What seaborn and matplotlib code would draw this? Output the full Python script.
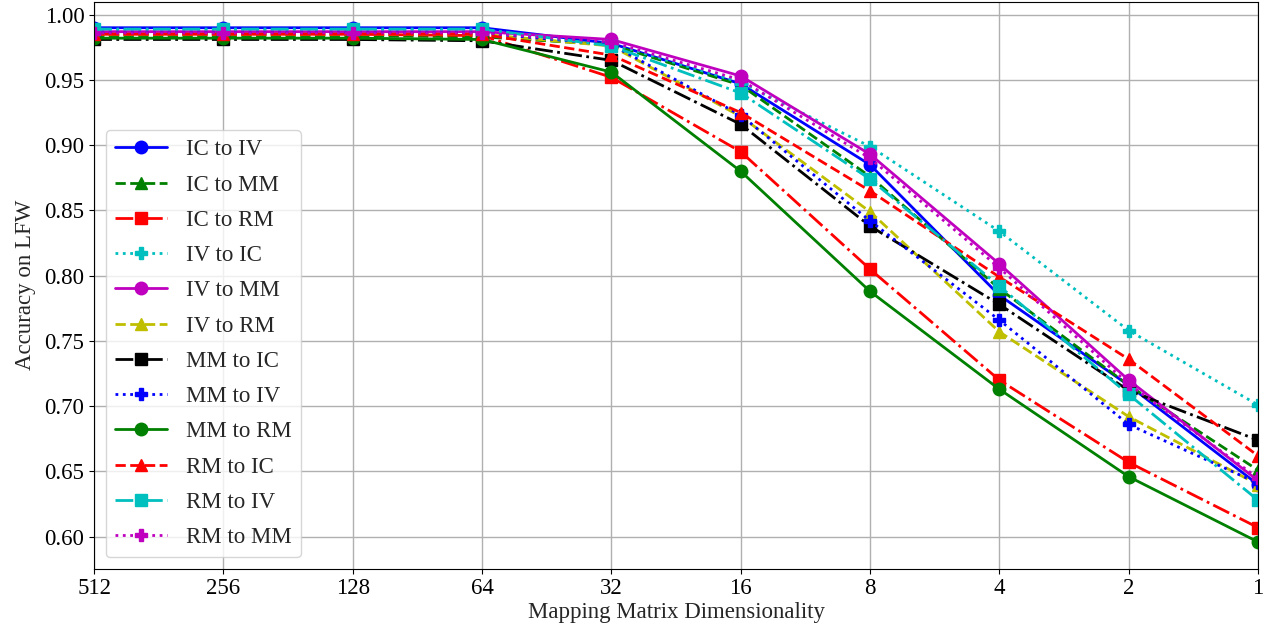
import matplotlib
matplotlib.use("Agg")
import matplotlib.pyplot as plt
import seaborn as sns
import numpy as np
import pandas as pd

dims = ["512", "256", "128", "64", "32", "16", "8", "4", "2", "1"]

ic_to_iv = [0.990, 0.990, 0.990, 0.990, 0.978, 0.947, 0.885, 0.785, 0.716, 0.640]
ic_to_mm = [0.984, 0.984, 0.984, 0.983, 0.977, 0.946, 0.876, 0.790, 0.716, 0.651]
ic_to_rm = [0.985, 0.985, 0.985, 0.984, 0.952, 0.895, 0.805, 0.720, 0.657, 0.607]
iv_to_ic = [0.988, 0.988, 0.988, 0.988, 0.978, 0.948, 0.899, 0.834, 0.758, 0.701]
iv_to_mm = [0.987, 0.987, 0.987, 0.987, 0.981, 0.953, 0.893, 0.809, 0.720, 0.643]
iv_to_rm = [0.985, 0.985, 0.985, 0.985, 0.976, 0.922, 0.849, 0.757, 0.692, 0.640]
mm_to_ic = [0.981, 0.981, 0.981, 0.980, 0.965, 0.916, 0.838, 0.778, 0.712, 0.674]
mm_to_iv = [0.986, 0.986, 0.986, 0.986, 0.977, 0.923, 0.842, 0.766, 0.686, 0.641]
mm_to_rm = [0.982, 0.982, 0.982, 0.981, 0.956, 0.880, 0.788, 0.713, 0.646, 0.596]
rm_to_ic = [0.985, 0.985, 0.985, 0.985, 0.969, 0.925, 0.865, 0.799, 0.736, 0.662]
rm_to_iv = [0.989, 0.989, 0.989, 0.989, 0.976, 0.940, 0.874, 0.792, 0.709, 0.628]
rm_to_mm = [0.986, 0.986, 0.986, 0.986, 0.979, 0.950, 0.890, 0.806, 0.717, 0.645]

labels = ["IC to IV", "IC to MM", "IC to RM", "IV to IC", "IV to MM", "IV to RM",
          "MM to IC", "MM to IV", "MM to RM", "RM to IC", "RM to IV", "RM to MM"]
series = [ic_to_iv, ic_to_mm, ic_to_rm, iv_to_ic, iv_to_mm, iv_to_rm,
          mm_to_ic, mm_to_iv, mm_to_rm, rm_to_ic, rm_to_iv, rm_to_mm]

colors = ["b", "g", "r", "c", "m", "y", "k"]
linestyles = ["-", "--", "-.", ":"]
markers = ["o", "^", "s", "P"]

FS = 16.5

sns.set_style("ticks")
plt.rcParams["font.family"] = ["Liberation Serif", "DejaVu Serif"]
plt.rcParams["font.size"] = FS

fig, ax = plt.subplots(figsize=(12.72, 6.34), dpi=100)
fig.subplots_adjust(left=0.074, right=0.989, top=0.997, bottom=0.103)

xpos = np.arange(len(dims))
for i, (lab, vals) in enumerate(zip(labels, series)):
    df = pd.DataFrame({"x": xpos, "y": vals})
    sns.lineplot(data=df, x="x", y="y", ax=ax, color=colors[i % 7],
                 linestyle=linestyles[i % 4], marker=markers[i % 4],
                 markersize=9, linewidth=2, markeredgewidth=1,
                 markeredgecolor=colors[i % 7], label=lab)

ax.set_xlim(0, len(dims) - 1)
ax.set_xticks(xpos)
ax.set_xticklabels(dims)
ax.set_yticks(np.arange(0.60, 1.001, 0.05))
ax.set_yticklabels([f"{v:.2f}" for v in np.arange(0.60, 1.001, 0.05)])
ax.set_ylim(0.5755, 1.0098)
ax.grid(True, color="#b0b0b0", linewidth=1)
for s in ax.spines.values():
    s.set_color("black")
ax.tick_params(labelsize=FS, colors="black")
ax.set_xlabel("Mapping Matrix Dimensionality", fontsize=FS, labelpad=2)
ax.set_ylabel("Accuracy on LFW", fontsize=FS, labelpad=6)
ax.legend(loc="lower left", fontsize=FS, handlelength=2.3, labelspacing=0.62,
          borderaxespad=0.5)

fig.savefig("out.png", dpi=100)
